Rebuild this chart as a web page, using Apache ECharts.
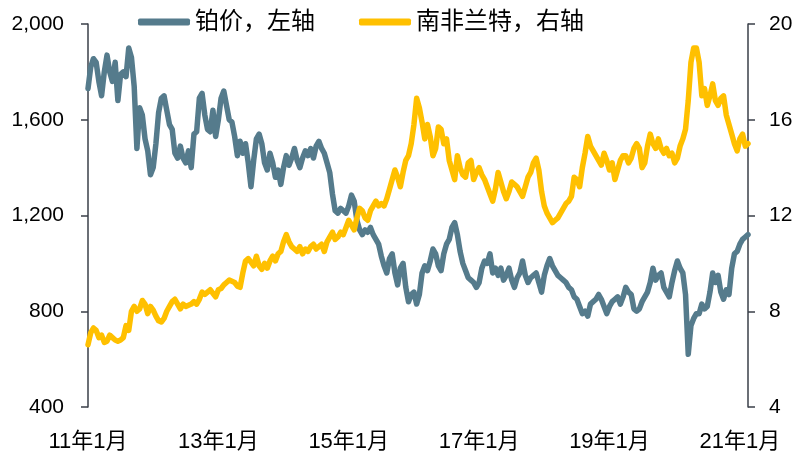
<!DOCTYPE html>
<html>
<head>
<meta charset="utf-8">
<script src="https://cdn.jsdelivr.net/npm/echarts@6/dist/echarts.min.js"></script>
<style>
html,body{margin:0;padding:0;background:#fff;}
#chart{width:798px;height:456px;}
</style>
</head>
<body>
<div id="chart"></div>
<script>
// Semi-monthly observations, Jan 2011 – mid Feb 2021
const startYear = 2011;
const nPoints = 244;
const seriesNames = ['铂价，左轴', '南非兰特，右轴'];

const platinum = [
  1730,1820,1855,1840,1760,1700,1800,1870,1800,1760,1840,1680,1790,1800,1780,1900,1860,1740,1480,1650,1620,1520,1470,1370,
  1400,1500,1630,1690,1700,1640,1580,1560,1460,1440,1490,1440,1420,1470,1400,1540,1550,1690,1710,1620,1560,1550,1640,1530,
  1600,1690,1720,1660,1600,1590,1530,1450,1510,1460,1500,1420,1320,1430,1520,1540,1500,1420,1390,1460,1420,1360,1390,1330,
  1400,1450,1410,1440,1480,1430,1400,1440,1470,1450,1480,1440,1490,1510,1480,1460,1420,1380,1290,1220,1210,1230,1220,1210,
  1240,1285,1260,1180,1140,1120,1140,1130,1150,1120,1100,1080,1030,990,960,1020,1040,960,910,980,1000,900,840,870,
  880,830,870,960,990,970,1010,1060,1040,990,970,1040,1080,1100,1150,1170,1120,1050,1000,970,940,930,920,900,
  920,980,1010,1000,1040,960,980,950,980,930,950,980,930,900,940,960,1010,950,920,940,950,960,920,880,
  950,990,1020,990,970,950,940,930,920,900,890,860,850,820,790,800,780,830,840,850,870,850,820,790,
  820,840,850,860,830,860,900,880,870,810,800,810,840,860,880,920,980,930,950,960,900,880,860,920,
  970,1010,980,960,870,620,740,770,790,790,830,810,820,880,960,920,950,880,850,890,870,980,1040,1050,
  1080,1100,1110,1120
];

const zar = [
  6.6,7.1,7.3,7.2,6.9,7.0,6.7,6.75,7.0,6.9,6.8,6.75,6.8,6.9,7.4,7.2,8.0,8.2,8.0,8.1,8.45,8.3,7.9,8.2,
  8.05,7.8,7.6,7.55,7.7,8.0,8.2,8.4,8.5,8.3,8.1,8.3,8.2,8.25,8.3,8.4,8.3,8.5,8.8,8.7,8.8,8.9,8.75,8.6,
  8.9,8.95,9.1,9.2,9.3,9.25,9.2,9.05,9.0,9.6,10.1,10.2,10.05,9.9,10.3,9.9,9.75,10.0,9.8,10.1,10.3,10.1,10.4,10.5,
  10.9,11.2,10.9,10.7,10.6,10.5,10.7,10.4,10.6,10.5,10.7,10.8,10.6,10.7,10.8,10.5,10.9,11.1,11.3,11.0,11.1,11.3,11.2,11.5,
  11.8,11.6,11.4,11.9,12.3,12.2,11.9,11.8,12.2,12.4,12.6,12.4,12.5,12.4,12.7,13.1,13.5,13.9,13.6,13.2,13.8,14.3,14.5,15.0,
  15.8,16.9,16.5,15.9,15.2,15.8,15.3,14.5,14.8,15.7,15.6,15.0,15.2,14.3,13.9,13.5,14.5,14.0,13.7,13.6,14.2,14.3,13.5,13.8,
  14.0,13.7,13.5,13.2,12.9,12.6,13.1,13.8,13.4,13.0,12.7,13.0,13.4,13.3,13.2,13.0,12.8,13.2,13.6,13.8,14.2,14.4,13.9,13.0,
  12.4,12.1,11.9,11.7,11.8,11.9,12.1,12.3,12.5,12.6,12.8,13.6,13.5,13.2,14.0,14.6,15.3,14.9,14.7,14.5,14.3,14.1,14.6,14.3,
  13.9,14.2,13.5,13.9,14.3,14.5,14.5,14.2,14.4,14.8,15.0,14.8,14.0,14.2,14.9,15.4,15.0,14.8,15.2,14.8,14.6,14.8,14.5,14.6,
  14.2,14.4,14.9,15.2,15.6,16.8,18.4,19.0,19.0,18.4,17.0,17.3,16.6,17.0,17.5,16.8,16.6,16.9,17.0,16.2,15.8,15.4,15.0,14.7,
  15.2,15.4,14.9,15.0
];

// Category labels: "YY年M月" (two per month)
const categories = [];
for (let i = 0; i < nPoints; i++) {
  const m = Math.floor(i / 2);
  const yy = String((startYear + Math.floor(m / 12)) % 100).padStart(2, '0');
  categories.push(yy + '年' + (m % 12 + 1) + '月');
}

const FONT = "'Liberation Sans', 'Noto Sans CJK SC', sans-serif";
const chart = echarts.init(document.getElementById('chart'), null, {renderer: 'canvas'});
chart.setOption({
  animation: false,
  backgroundColor: '#ffffff',
  textStyle: {fontFamily: FONT},
  legend: {
    data: seriesNames,
    top: 5,
    left: 133,
    itemGap: 44,
    itemWidth: 52,
    itemHeight: 7,
    icon: 'roundRect',
    textStyle: {fontSize: 24, color: '#000', fontFamily: FONT, padding: [0, 0, 0, 0]}
  },
  grid: {left: 88, right: 50, top: 24, bottom: 49, containLabel: false, outerBoundsMode: 'none'},
  xAxis: {
    type: 'category',
    data: categories,
    boundaryGap: false,
    axisLine: {show: false},
    axisTick: {show: false},
    axisLabel: {
      interval: function (idx) { return idx % 48 === 0; },
      margin: 24,
      fontSize: 22,
      color: '#000',
      fontFamily: FONT
    },
    splitLine: {show: false}
  },
  yAxis: [
    {
      type: 'value', min: 400, max: 2000, interval: 400, position: 'left',
      axisLine: {show: true, lineStyle: {color: '#3a3f48', width: 1.5}},
      axisTick: {show: true, inside: false, length: 7, lineStyle: {color: '#3a3f48', width: 1.5}},
      axisLabel: {
        margin: 24, fontSize: 21, color: '#000', fontFamily: FONT,
        formatter: function (v) { return v.toLocaleString('en-US'); }
      },
      splitLine: {show: false}
    },
    {
      type: 'value', min: 4, max: 20, interval: 4, position: 'right',
      axisLine: {show: true, lineStyle: {color: '#3a3f48', width: 1.5}},
      axisTick: {show: true, inside: false, length: 7, lineStyle: {color: '#3a3f48', width: 1.5}},
      axisLabel: {margin: 21, fontSize: 21, color: '#000', fontFamily: FONT},
      splitLine: {show: false}
    }
  ],
  series: [
    {
      name: seriesNames[0], type: 'line', yAxisIndex: 0, data: platinum,
      showSymbol: false, symbol: 'none',
      lineStyle: {color: '#557b8c', width: 5.5, cap: 'round', join: 'round'},
      itemStyle: {color: '#557b8c'}
    },
    {
      name: seriesNames[1], type: 'line', yAxisIndex: 1, data: zar,
      showSymbol: false, symbol: 'none',
      lineStyle: {color: '#ffc000', width: 5.5, cap: 'round', join: 'round'},
      itemStyle: {color: '#ffc000'}
    }
  ]
});
</script>
</body>
</html>
